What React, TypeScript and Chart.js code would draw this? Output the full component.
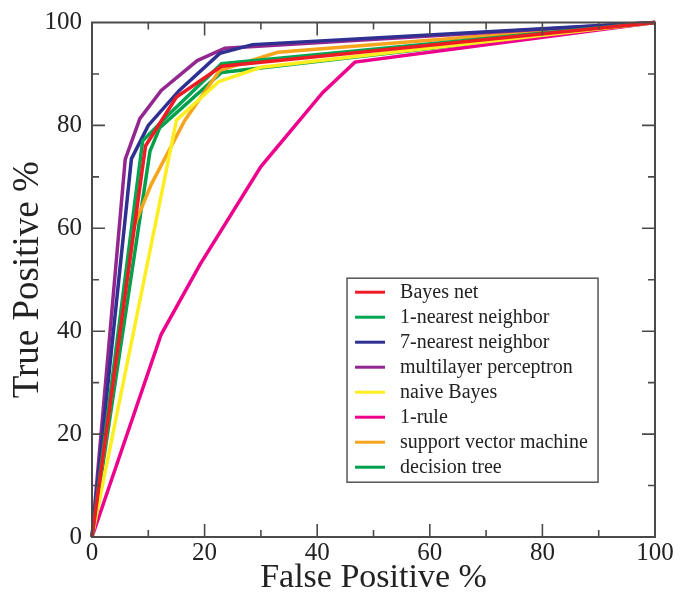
import React, { useEffect, useRef } from 'react';
import { Chart, registerables } from 'chart.js';

Chart.register(...registerables);

// ---- Data ----
const seriesNames = [
  'Bayes net',
  '1-nearest neighbor',
  '7-nearest neighbor',
  'multilayer perceptron',
  'naive Bayes',
  '1-rule',
  'support vector machine',
  'decision tree',
];
const seriesColors = ['#ed1c24', '#00a651', '#2e3192', '#92278f', '#fcee21', '#ec008c', '#f7a51c', '#00a04b'];

const bayesNetFP = [0, 9.5, 15, 23, 100];
const bayesNetTP = [0, 76, 85.5, 91.5, 100];

const nn1FP = [0, 9, 14, 23, 100];
const nn1TP = [0, 77, 82.5, 92, 100];

const nn7FP = [0, 7, 10, 15.5, 22.7, 28.5, 100];
const nn7TP = [0, 73.5, 80, 86.8, 94, 95.7, 100];

const mlpFP = [0, 5.9, 8.5, 12.3, 18.7, 23.6, 100];
const mlpTP = [0, 73.4, 81.3, 86.8, 92.6, 95, 100];

const naiveBayesFP = [0, 15, 22.5, 30, 100];
const naiveBayesTP = [0, 81, 88.5, 91.3, 100];

const oneRuleFP = [0, 12.3, 19.2, 30, 41, 46.7, 100];
const oneRuleTP = [0, 39.4, 53, 72, 86.4, 92.3, 100];

const svmFP = [0, 7.5, 10.5, 16.5, 22.7, 33, 100];
const svmTP = [0, 60.5, 68.5, 81, 90.7, 94.2, 100];

const decisionTreeFP = [0, 10.3, 12, 23, 100];
const decisionTreeTP = [0, 75, 79.5, 90.3, 100];

const seriesFP = [bayesNetFP, nn1FP, nn7FP, mlpFP, naiveBayesFP, oneRuleFP, svmFP, decisionTreeFP];
const seriesTP = [bayesNetTP, nn1TP, nn7TP, mlpTP, naiveBayesTP, oneRuleTP, svmTP, decisionTreeTP];

const axisMin = 0;
const axisMax = 100;
const majorStep = 20;
const minorStep = 10;
const xTitle = 'False Positive %';
const yTitle = 'True Positive %';

const SERIF = '"Liberation Serif", "Times New Roman", serif';

const framePlugin = {
  id: 'frameTicks',
  afterDatasetsDraw(chart: any) {
    const { ctx, chartArea, scales } = chart;
    const { left, right, top, bottom } = chartArea;
    ctx.save();
    ctx.strokeStyle = '#4a4a4a';
    ctx.lineWidth = 2;
    ctx.strokeRect(left, top, right - left, bottom - top);
    ctx.lineWidth = 1.6;
    for (let v = axisMin + minorStep; v < axisMax; v += minorStep) {
      const len = v % majorStep === 0 ? 13 : 7;
      const px = scales.x.getPixelForValue(v);
      const py = scales.y.getPixelForValue(v);
      ctx.beginPath();
      ctx.moveTo(px, bottom); ctx.lineTo(px, bottom - len);
      ctx.moveTo(px, top); ctx.lineTo(px, top + len);
      ctx.moveTo(left, py); ctx.lineTo(left + len, py);
      ctx.moveTo(right, py); ctx.lineTo(right - len, py);
      ctx.stroke();
    }
    ctx.restore();
  },
};

const legendPlugin = {
  id: 'insideLegend',
  afterDraw(chart: any) {
    const { ctx, scales } = chart;
    const bx = scales.x.getPixelForValue(45.3);
    const by = scales.y.getPixelForValue(50.3);
    const bw = 251;
    const bh = 204;
    ctx.save();
    ctx.fillStyle = '#ffffff';
    ctx.fillRect(bx, by, bw, bh);
    ctx.strokeStyle = '#555555';
    ctx.lineWidth = 1.5;
    ctx.strokeRect(bx, by, bw, bh);
    ctx.font = `20px ${SERIF}`;
    ctx.textBaseline = 'middle';
    ctx.textAlign = 'left';
    seriesNames.forEach((name, i) => {
      const cy = by + 14 + i * 25;
      ctx.strokeStyle = seriesColors[i];
      ctx.lineWidth = 3;
      ctx.beginPath();
      ctx.moveTo(bx + 8, cy);
      ctx.lineTo(bx + 38, cy);
      ctx.stroke();
      ctx.fillStyle = '#222222';
      ctx.fillText(name, bx + 53, cy + 1);
    });
    ctx.restore();
  },
};

export default function App() {
  const canvasRef = useRef<HTMLCanvasElement | null>(null);

  useEffect(() => {
    if (!canvasRef.current) return;
    const datasets = seriesNames.map((name, i) => ({
      label: name,
      data: seriesFP[i].map((fp, j) => ({ x: fp, y: seriesTP[i][j] })),
      borderColor: seriesColors[i],
      backgroundColor: seriesColors[i],
      borderWidth: 3.5,
      pointRadius: 0,
      tension: 0,
      fill: false,
      clip: false as any,
      borderJoinStyle: 'miter' as const,
    }));

    const chart = new Chart(canvasRef.current, {
      type: 'line',
      data: { datasets },
      options: {
        animation: false,
        responsive: false,
        layout: { padding: { top: 22, right: 30, left: 0, bottom: 0 } },
        plugins: { legend: { display: false }, tooltip: { enabled: false } },
        scales: {
          x: {
            type: 'linear',
            min: axisMin,
            max: axisMax,
            grid: { display: false, drawTicks: false },
            border: { display: false },
            ticks: {
              stepSize: majorStep,
              padding: 4,
              color: '#222',
              font: { family: SERIF, size: 25, lineHeight: 1 },
              maxRotation: 0,
            },
            title: {
              display: true,
              text: xTitle,
              color: '#222',
              font: { family: SERIF, size: 34 },
              padding: { top: 0, bottom: 4 },
            },
            afterFit: (scale: any) => {
              scale.height = 65;
            },
          },
          y: {
            type: 'linear',
            min: axisMin,
            max: axisMax,
            grid: { display: false, drawTicks: false },
            border: { display: false },
            ticks: {
              stepSize: majorStep,
              padding: 10,
              color: '#222',
              font: { family: SERIF, size: 25, lineHeight: 1 },
            },
            title: {
              display: true,
              text: yTitle,
              color: '#222',
              font: { family: SERIF, size: 37 },
              padding: { top: 6, bottom: 0 },
            },
            afterFit: (scale: any) => {
              scale.width = 92;
            },
          },
        },
      },
      plugins: [framePlugin, legendPlugin],
    });
    return () => chart.destroy();
  }, []);

  return (
    <div style={{ position: 'absolute', left: 0, top: 0, width: 685, height: 602, background: '#fff' }}>
      <canvas ref={canvasRef} width={685} height={602} />
    </div>
  );
}
